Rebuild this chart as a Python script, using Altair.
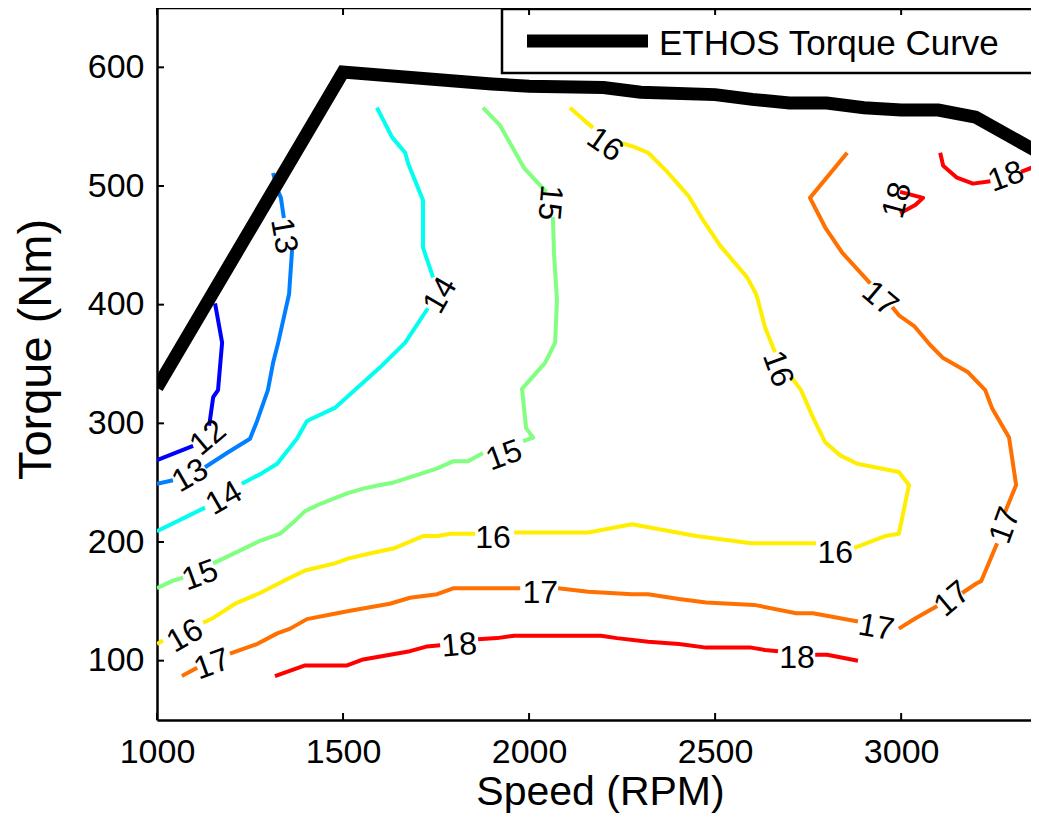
import altair as alt
import pandas as pd

# ---------------- axes ----------------
X_TICKS = [1000, 1500, 2000, 2500, 3000]
Y_TICKS = [100, 200, 300, 400, 500, 600]
X_DOMAIN = [1000, 3349]
Y_DOMAIN = [50, 650]

# ---------------- contour levels ----------------
LEVELS = [12, 13, 14, 15, 16, 17, 18]
LEVEL_COLORS = ["#0000ff", "#0080ff", "#00ffee", "#80ff80", "#ffee00", "#ff7000", "#ff0000"]

# ---------------- ETHOS torque curve ----------------
TORQUE_RPM = [1000, 1500, 1900, 2000, 2200, 2300, 2500, 2600, 2700, 2800, 2900, 3000, 3100, 3200, 3400]
TORQUE_NM = [330, 596, 586, 584, 583, 579, 577, 573, 570, 570, 566, 564, 564, 558, 523]

# ---------------- contour segments (split where labels sit) ----------------
C12_RPM = [[1156, 1175, 1164, 1151, 1142, 1140], [1097, 1000]]
C12_NM = [[401, 368, 328, 322, 302, 298], [281, 269]]

C13_RPM = [[1312, 1325, 1333, 1341],
           [1363, 1355, 1325, 1312, 1298, 1269, 1250, 1188, 1129],
           [1043, 1000]]
C13_NM = [[511, 496, 490, 473],
          [446, 409, 367, 351, 328, 302, 287, 275, 263],
          [252, 249]]

C14_RPM = [[1591, 1632, 1667, 1675, 1715, 1715, 1742],
           [1728, 1667, 1599, 1478, 1403, 1376, 1323, 1282, 1228],
           [1129, 1000]]
C14_NM = [[566, 541, 528, 519, 488, 448, 423],
          [397, 368, 347, 313, 302, 287, 266, 258, 249],
          [229, 209]]

C15_RPM = [[1876, 1922, 1987, 2046],
           [2064, 2067, 2075, 2070, 2043, 1981, 1992, 2011, 1984],
           [1876, 1836, 1796, 1753, 1715, 1634, 1599, 1554, 1511, 1478, 1438, 1398, 1371, 1331, 1277, 1231, 1151],
           [1070, 1040, 1000]]
C15_NM = [[566, 551, 515, 495],
          [474, 443, 404, 368, 351, 329, 296, 288, 285],
          [275, 268, 268, 262, 258, 250, 248, 245, 241, 237, 232, 226, 218, 207, 201, 194, 182],
          [170, 167, 161]]

C16_RPM = [[2110, 2142, 2172],
           [2250, 2282, 2320, 2374, 2430, 2468, 2513, 2586, 2610, 2615, 2634, 2661],
           [2707, 2731, 2763, 2796, 2836, 2882, 2994, 3021, 2994, 2957, 2874],
           [2771, 2597, 2449, 2277, 2159, 1960],
           [1855, 1788, 1755, 1715, 1640, 1554, 1513, 1478, 1398, 1339, 1277, 1210, 1151, 1124],
           [1016, 1000]]
C16_NM = [[566, 557, 549],
          [536, 533, 528, 511, 491, 471, 450, 423, 409, 404, 381, 360],
          [338, 328, 305, 284, 273, 266, 259, 248, 207, 205, 195],
          [199, 199, 205, 215, 208, 208],
          [207, 207, 205, 205, 195, 189, 186, 182, 176, 167, 157, 148, 136, 132],
          [117, 114]]

C17_RPM = [[1067, 1108],
           [1196, 1269, 1323, 1358, 1403, 1484, 1519, 1626, 1680, 1753, 1796, 1976],
           [2078, 2159, 2277, 2320, 2403, 2476, 2605, 2718, 2763, 2884],
           [2994, 3040, 3097],
           [3164, 3202, 3215, 3258],
           [3279, 3309, 3290, 3244, 3226, 3180, 3113, 3078, 3035, 2994, 2976],
           [2917, 2841, 2796, 2755, 2855]]
C17_NM = [[87, 94],
          [106, 114, 123, 127, 135, 140, 142, 148, 153, 156, 161, 161],
          [161, 158, 156, 156, 152, 149, 147, 140, 140, 133],
          [127, 136, 146],
          [157, 165, 167, 199],
          [225, 248, 288, 313, 328, 343, 355, 366, 382, 391, 398],
          [418, 444, 465, 490, 528]]

C18_RPM = [[1317, 1398, 1511, 1554, 1680, 1726, 1761],
           [1863, 1914, 1960, 2193, 2236, 2320, 2403, 2476, 2597, 2634, 2669],
           [2769, 2801, 2884],
           [3105, 3113, 3150, 3193, 3240],
           [3322, 3390],
           [2997, 3059, 3038, 2997]]
C18_NM = [[87, 96, 96, 101, 108, 112, 113],
          [118, 119, 121, 121, 119, 116, 114, 111, 111, 109, 108],
          [105, 105, 100],
          [528, 517, 507, 502, 504],
          [512, 520],
          [495, 490, 484, 477]]

# ---------------- inline contour labels ----------------
LABEL_LEVEL = [12, 13, 13, 14, 14, 15, 15, 15, 16, 16, 16, 16, 16, 17, 17, 17, 17, 17, 17, 18, 18, 18, 18]
LABEL_RPM = [1137, 1341, 1089, 1761, 1180, 2056, 1933, 1116, 2204, 2669, 2823, 1903, 1075,
             1148, 2030, 2933, 3137, 3279, 2943, 1812, 2720, 3282, 2989]
LABEL_NM = [288, 458, 256, 408, 237, 486, 273, 172, 535, 346, 191, 203, 121,
            97, 157, 128, 152, 214, 405, 113, 102, 508, 488]
LABEL_ANGLE = [320, 80, 330, 300, 330, 95, 340, 340, 35, 70, 0, 0, 330,
               340, 0, 10, 320, 290, 40, 355, 0, 340, 285]

LEGEND_TEXT = "ETHOS Torque Curve"

# ---------------- tables ----------------
rows = []
for level, rpms, nms in [(12, C12_RPM, C12_NM), (13, C13_RPM, C13_NM), (14, C14_RPM, C14_NM),
                         (15, C15_RPM, C15_NM), (16, C16_RPM, C16_NM), (17, C17_RPM, C17_NM),
                         (18, C18_RPM, C18_NM)]:
    for s, (rr, nn) in enumerate(zip(rpms, nms)):
        for i, (r, n) in enumerate(zip(rr, nn)):
            rows.append({"level": level, "seg": f"{level}-{s}", "idx": i, "rpm": r, "nm": n})
contour_df = pd.DataFrame(rows)

torque_df = pd.DataFrame({"rpm": TORQUE_RPM, "nm": TORQUE_NM, "idx": list(range(len(TORQUE_RPM)))})
label_df = pd.DataFrame({"rpm": LABEL_RPM, "nm": LABEL_NM, "angle": LABEL_ANGLE,
                         "text": [str(v) for v in LABEL_LEVEL]})
xtick_df = pd.DataFrame({"rpm": X_TICKS})
ytick_df = pd.DataFrame({"nm": Y_TICKS})
one = pd.DataFrame({"k": [0]})

W, H = 874, 712
FONT = "Liberation Sans"

xscale = alt.Scale(domain=X_DOMAIN, nice=False, zero=False)
yscale = alt.Scale(domain=Y_DOMAIN, nice=False, zero=False)

xaxis = alt.Axis(values=X_TICKS, title="Speed (RPM)", format="d", grid=False, ticks=False, tickSize=0,
                 labelFontSize=34, labelPadding=42, labelBaseline="alphabetic", labelColor="black",
                 labelFlush=False, labelOverlap=False, labelFont=FONT,
                 titleFontSize=41, titleFontWeight="normal", titleColor="black", titleFont=FONT,
                 titleX=443, titleY=84, titleBaseline="alphabetic", titleAlign="center",
                 domainColor="black", domainWidth=2.5)
yaxis = alt.Axis(values=Y_TICKS, title="Torque (Nm)", format="d", grid=False, ticks=False, tickSize=0,
                 labelFontSize=34, labelPadding=13, labelColor="black", labelFlush=False,
                 labelOverlap=False, labelFont=FONT,
                 titleFontSize=47, titleFontWeight="normal", titleColor="black", titleFont=FONT,
                 titleX=-97, titleY=341, titleAngle=270, titleBaseline="bottom", titleAlign="center",
                 domainColor="black", domainWidth=2.5)

X = alt.X("rpm:Q", scale=xscale, axis=xaxis)
Y = alt.Y("nm:Q", scale=yscale, axis=yaxis)

lines = alt.Chart(contour_df).mark_line(strokeWidth=4, clip=True, strokeJoin="round").encode(
    x=X, y=Y,
    color=alt.Color("level:O", scale=alt.Scale(domain=LEVELS, range=LEVEL_COLORS), legend=None),
    detail="seg:N",
    order="idx:Q",
)

labels = alt.Chart(label_df).mark_text(fontSize=32, color="black", align="center", baseline="middle",
                                       font=FONT).encode(
    x=X, y=Y, text="text:N", angle=alt.Angle("angle:Q", scale=None)
)

torque = alt.Chart(torque_df).mark_line(color="black", strokeWidth=13, clip=True,
                                        strokeJoin="miter").encode(x=X, y=Y, order="idx:Q")

box = alt.Chart(one).mark_rect(fill="white", stroke="black", strokeWidth=2.5).encode(
    x=alt.value(345), x2=alt.value(900), y=alt.value(1), y2=alt.value(65))
sym = alt.Chart(one).mark_rule(color="black", strokeWidth=13).encode(
    x=alt.value(370), x2=alt.value(491), y=alt.value(33))
ltext = alt.Chart(one).mark_text(align="left", baseline="middle", fontSize=35, color="black",
                                 font=FONT).encode(
    x=alt.value(502), y=alt.value(36), text=alt.value(LEGEND_TEXT))

border = alt.Chart(one).mark_rule(color="black", strokeWidth=2.5).encode(
    x=alt.value(0), x2=alt.value(W), y=alt.value(0))

bticks = alt.Chart(xtick_df).mark_rule(color="black", strokeWidth=2).encode(
    x=X, y=alt.value(H), y2=alt.value(H - 7))
tticks = alt.Chart(xtick_df).mark_rule(color="black", strokeWidth=2).encode(
    x=X, y=alt.value(0), y2=alt.value(7))
lticks = alt.Chart(ytick_df).mark_rule(color="black", strokeWidth=2).encode(
    y=Y, x=alt.value(0), x2=alt.value(7))

chart = alt.layer(lines, labels, torque, box, sym, ltext, border, bticks, tticks, lticks).properties(
    width=W, height=H,
    padding={"left": 149, "top": 0, "right": 0, "bottom": 93},
    autosize=alt.AutoSizeParams(type="none"),
).configure(font=FONT).configure_view(stroke="transparent")

chart.save("out.html", embed_options={"renderer": "svg", "actions": False})
